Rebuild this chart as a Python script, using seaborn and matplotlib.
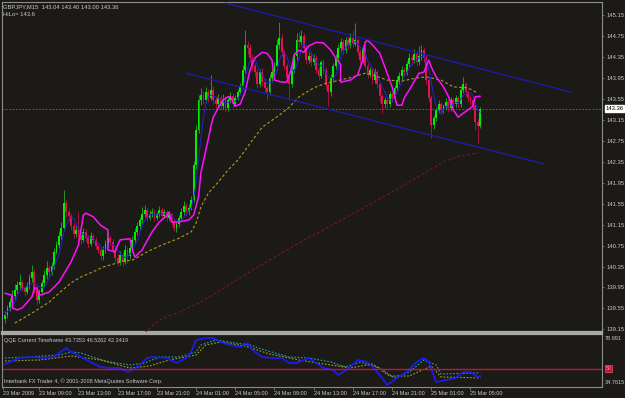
import numpy as np
import pandas as pd
import matplotlib
matplotlib.use("Agg")
import matplotlib.pyplot as plt
import seaborn as sns

# GBPJPY M15 candles (one row = 10 bars)
first_open = 139.35
closes = [
    139.42, 139.56, 139.67, 139.79, 139.90, 139.99, 140.05, 139.94, 139.86, 139.98,
    140.13, 140.24, 139.90, 139.71, 139.86, 140.03, 140.18, 140.32, 140.24, 140.36,
    140.63, 140.76, 140.93, 141.09, 141.56, 141.39, 141.32, 141.12, 140.97, 141.05,
    140.93, 140.86, 141.01, 140.90, 140.78, 140.93, 140.86, 140.74, 140.67, 140.55,
    140.67, 140.78, 140.90, 140.82, 140.67, 140.51, 140.44, 140.57, 140.44, 140.67,
    140.55, 140.70, 140.86, 141.01, 141.12, 141.24, 141.35, 141.43, 141.28, 141.35,
    141.39, 141.28, 141.35, 141.43, 141.32, 141.39, 141.28, 141.35, 141.20, 141.09,
    141.16, 141.28, 141.39, 141.51, 141.39, 141.47, 141.62, 142.29, 142.96, 143.53,
    143.62, 143.53, 143.68, 143.57, 143.72, 143.53, 143.45, 143.57, 143.41, 143.53,
    143.37, 143.53, 143.60, 143.45, 143.57, 143.68, 143.79, 144.10, 144.58, 144.52,
    144.33, 144.18, 144.06, 143.83, 144.06, 143.87, 143.76, 143.68, 143.95, 144.06,
    144.18, 144.58, 144.71, 144.44, 144.18, 143.95, 143.83, 144.10, 144.37, 144.67,
    144.63, 144.75, 144.52, 144.29, 144.37, 144.25, 144.33, 144.10, 143.99, 144.25,
    144.10, 143.81, 143.68, 143.95, 144.18, 144.33, 144.52, 144.63, 144.48, 144.67,
    144.58, 144.71, 144.60, 144.67, 144.44, 144.29, 144.52, 144.18, 144.01, 144.10,
    143.91, 144.06, 143.83, 143.60, 143.45, 143.53, 143.45, 143.64, 143.57, 143.76,
    143.91, 143.99, 144.10, 144.06, 144.21, 144.33, 144.29, 144.41, 144.25, 144.37,
    144.48, 144.33, 143.91, 143.57, 143.05, 143.18, 143.34, 143.45, 143.34, 143.41,
    143.49, 143.37, 143.53, 143.45, 143.57, 143.45, 143.72, 143.83, 143.68, 143.57,
    143.53, 143.44, 143.10, 143.04, 143.36,
]
highs = [
    139.50, 139.62, 139.75, 139.90, 140.02, 140.08, 140.20, 140.10, 139.98, 140.06,
    140.20, 140.38, 140.30, 139.98, 139.92, 140.10, 140.28, 140.45, 140.38, 140.44,
    140.70, 140.84, 141.02, 141.20, 141.82, 141.62, 141.46, 141.38, 141.18, 141.12,
    141.40, 140.98, 141.08, 141.06, 140.96, 141.00, 140.98, 140.92, 140.80, 140.72,
    140.74, 140.86, 141.00, 140.96, 140.88, 140.72, 140.58, 140.64, 140.62, 140.76,
    140.72, 140.78, 140.94, 141.08, 141.20, 141.30, 141.48, 141.52, 141.46, 141.42,
    141.46, 141.44, 141.40, 141.50, 141.48, 141.44, 141.42, 141.40, 141.38, 141.26,
    141.22, 141.34, 141.46, 141.60, 141.56, 141.54, 141.70, 142.36, 143.05, 143.62,
    143.76, 143.70, 143.78, 143.74, 144.00, 143.80, 143.60, 143.64, 143.62, 143.64,
    143.60, 143.58, 143.68, 143.66, 143.62, 143.74, 143.86, 144.20, 144.86, 144.66,
    144.60, 144.40, 144.24, 144.12, 144.12, 144.14, 143.94, 143.82, 144.02, 144.14,
    144.26, 144.70, 145.02, 144.78, 144.50, 144.24, 144.02, 144.18, 144.44, 144.80,
    144.82, 144.86, 144.80, 144.58, 144.44, 144.42, 144.40, 144.38, 144.16, 144.30,
    144.32, 144.16, 143.88, 144.02, 144.24, 144.40, 144.60, 144.72, 144.70, 144.74,
    144.76, 144.80, 144.86, 145.00, 144.72, 144.50, 144.58, 144.58, 144.24, 144.16,
    144.16, 144.14, 144.10, 143.88, 143.66, 143.58, 143.56, 143.70, 143.68, 143.82,
    143.98, 144.06, 144.18, 144.16, 144.28, 144.42, 144.38, 144.50, 144.46, 144.56,
    144.58, 144.52, 144.38, 143.96, 143.62, 143.24, 143.40, 143.52, 143.50, 143.46,
    143.56, 143.54, 143.58, 143.56, 143.62, 143.60, 143.78, 143.96, 143.88, 143.72,
    143.62, 143.60, 143.50, 143.16, 143.40,
]
lows = [
    139.28, 139.36, 139.50, 139.62, 139.72, 139.84, 139.92, 139.88, 139.78, 139.82,
    139.92, 140.06, 139.84, 139.62, 139.66, 139.80, 139.98, 140.12, 140.16, 140.18,
    140.30, 140.58, 140.70, 140.88, 141.02, 141.30, 141.22, 141.04, 140.90, 140.92,
    140.86, 140.78, 140.82, 140.84, 140.70, 140.74, 140.80, 140.68, 140.60, 140.48,
    140.48, 140.60, 140.72, 140.76, 140.60, 140.44, 140.36, 140.38, 140.36, 140.40,
    140.42, 140.50, 140.64, 140.80, 140.96, 141.06, 141.18, 141.30, 141.22, 141.24,
    141.30, 141.22, 141.24, 141.30, 141.26, 141.28, 141.22, 141.24, 141.14, 141.02,
    141.00, 141.10, 141.22, 141.34, 141.32, 141.34, 141.42, 141.58, 142.22, 142.90,
    143.44, 143.46, 143.48, 143.50, 143.52, 143.46, 143.38, 143.40, 143.34, 143.36,
    143.30, 143.32, 143.48, 143.40, 143.42, 143.52, 143.62, 143.74, 144.04, 144.40,
    144.26, 144.10, 143.98, 143.76, 143.78, 143.80, 143.66, 143.52, 143.62, 143.88,
    143.98, 144.10, 144.50, 144.36, 144.10, 143.88, 143.52, 143.78, 144.04, 144.30,
    144.54, 144.58, 144.46, 144.22, 144.24, 144.18, 144.20, 144.04, 143.92, 143.94,
    144.02, 143.74, 143.42, 143.60, 143.88, 144.12, 144.26, 144.44, 144.40, 144.42,
    144.50, 144.52, 144.54, 144.56, 144.38, 144.22, 144.24, 144.12, 143.94, 143.96,
    143.84, 143.86, 143.76, 143.50, 143.28, 143.38, 143.36, 143.40, 143.50, 143.52,
    143.70, 143.84, 143.92, 143.98, 144.00, 144.16, 144.20, 144.24, 144.18, 144.20,
    144.30, 144.26, 143.84, 143.50, 142.80, 142.98, 143.12, 143.28, 143.26, 143.28,
    143.34, 143.30, 143.32, 143.38, 143.40, 143.38, 143.40, 143.66, 143.60, 143.50,
    143.44, 143.36, 142.96, 142.71, 143.00,
]

# HiLo indicator (magenta), bar index / price
hilo_idx = [0, 3, 3, 5, 7, 8, 11, 12, 13, 14, 18, 22, 27, 30, 31, 32, 33, 36, 39, 42,
            42, 45, 46, 47, 51, 52, 53, 56, 60, 63, 66, 67, 68, 71, 75, 77, 79, 80, 82, 84,
            85, 87, 89, 91, 92, 94, 96, 98, 100, 102, 105, 107, 109, 110, 113, 115, 117, 118, 120, 122,
            124, 127, 130, 133, 135, 137, 137, 141, 144, 146, 147, 148, 150, 153, 156, 158, 160, 162, 163, 165,
            169, 171, 173, 174, 176, 179, 181, 183, 185, 186, 189, 191, 192, 194]
hilo_val = [139.84, 139.80, 139.56, 139.52, 139.56, 139.61, 139.77, 139.94, 139.94, 139.80,
            139.86, 140.05, 140.44, 140.76, 141.05, 141.33, 141.37, 141.30, 141.14, 141.05,
            140.67, 140.63, 140.76, 140.86, 140.88, 140.67, 140.53, 140.67, 141.01, 141.20,
            141.32, 141.39, 141.20, 141.20, 141.24, 141.33, 141.68, 142.15, 142.57, 143.01,
            143.20, 143.37, 143.53, 143.59, 143.59, 143.41, 143.45, 143.68, 144.10, 144.33,
            144.44, 144.42, 144.29, 143.91, 143.87, 143.87, 144.14, 144.39, 144.48, 144.44,
            144.56, 144.63, 144.62, 144.48, 144.33, 144.21, 143.87, 143.91, 144.01, 144.29,
            144.63, 144.67, 144.58, 144.42, 144.04, 143.78, 143.43, 143.43, 143.57, 143.72,
            144.04, 144.06, 144.29, 144.16, 143.97, 143.78, 143.60, 143.34, 143.20, 143.24,
            143.34, 143.41, 143.59, 143.60]

# slow moving average (olive dashed)
ma_slow_idx = [4, 11, 18, 22, 27, 31, 36, 40, 46, 49, 52, 58, 64, 71, 76, 78, 80, 83, 87, 91,
               95, 98, 100, 105, 112, 116, 120, 126, 131, 137, 142, 147, 150, 156, 162, 168, 172, 178, 183, 189, 193]
ma_slow_val = [139.27, 139.46, 139.67, 139.84, 140.04, 140.15, 140.25, 140.34, 140.42, 140.46,
               140.47, 140.63, 140.76, 140.89, 141.01, 141.18, 141.49, 141.75, 141.96, 142.19,
               142.38, 142.57, 142.70, 143.01, 143.24, 143.39, 143.59, 143.76, 143.85, 143.91,
               143.97, 144.04, 144.01, 143.91, 143.89, 143.95, 143.97, 143.91, 143.78, 143.76, 143.66]

# long moving average (maroon dashed)
ma_long_idx = [57, 63, 71, 80, 100, 120, 141, 161, 179, 186, 193]
ma_long_val = [139.08, 139.33, 139.48, 139.67, 140.25, 140.80, 141.33, 141.85, 142.35, 142.46, 142.52]

# channel lines (bar index, price)
upper_idx = [90, 231]
upper_val = [145.38, 143.68]
lower_idx = [74, 220]
lower_val = [144.04, 142.31]

bid = 143.36
price_ticks = [145.15, 144.75, 144.35, 143.95, 143.55, 143.15, 142.75, 142.35,
               141.95, 141.55, 141.15, 140.75, 140.35, 139.95, 139.55, 139.15]

# QQE sub window
qqe_idx = [0, 2, 6, 11, 16, 20, 22, 25, 27, 31, 35, 39, 43, 47, 50, 52, 55, 58, 60, 66,
           70, 74, 76, 78, 82, 85, 88, 92, 96, 99, 101, 105, 109, 113, 116, 119, 122, 124, 127, 130,
           134, 136, 138, 141, 144, 148, 150, 153, 156, 160, 164, 168, 171, 173, 176, 180, 184, 187, 190, 193, 194]
qqe_val = [53.95, 55.62, 58.96, 59.80, 58.96, 59.80, 63.13, 67.31, 63.97, 59.80,
           55.62, 51.45, 50.62, 50.62, 47.28, 48.95, 53.12, 58.96, 59.80, 58.96,
           54.79, 58.96, 63.97, 73.98, 75.65, 75.65, 72.31, 69.81, 68.14, 71.48,
           65.64, 59.80, 58.96, 58.96, 54.79, 54.79, 57.29, 58.96, 54.79, 50.62,
           48.95, 44.77, 47.28, 51.45, 57.29, 55.62, 51.45, 44.77, 36.43, 42.27,
           47.28, 55.62, 58.96, 55.62, 38.93, 40.60, 42.27, 47.28, 47.28, 43.11, 43.74]
qqe_fast_idx = [0, 10, 22, 27, 31, 37, 43, 51, 57, 63, 71, 78, 80, 86, 94, 100, 106, 116, 124, 133,
                139, 145, 153, 159, 165, 171, 176, 178, 194]
qqe_fast_val = [58.96, 59.80, 61.46, 63.97, 63.13, 58.96, 55.62, 53.12, 54.79, 59.80,
                59.80, 63.97, 69.81, 73.98, 71.48, 69.81, 65.64, 59.80, 58.96, 55.62,
                51.45, 55.62, 50.62, 42.27, 47.28, 57.29, 53.12, 45.61, 46.53]
qqe_slow_idx = [0, 14, 27, 39, 51, 59, 67, 78, 82, 88, 98, 108, 120, 133, 141, 150, 157, 165, 174, 178, 194]
qqe_slow_val = [56.46, 57.29, 60.63, 57.29, 50.62, 52.28, 57.29, 61.46, 69.81, 72.31,
                68.97, 62.30, 57.29, 53.12, 50.62, 53.95, 43.94, 43.94, 52.28, 43.11, 42.34]

time_idx = [-1, 14, 30, 46, 62, 78, 94, 110, 126, 142, 158, 174, 190]
time_labels = ['23 Mar 2009', '23 Mar 09:00', '23 Mar 13:00', '23 Mar 17:00', '23 Mar 21:00',
               '24 Mar 01:00', '24 Mar 05:00', '24 Mar 09:00', '24 Mar 13:00', '24 Mar 17:00',
               '24 Mar 21:00', '25 Mar 01:00', '25 Mar 05:00']

# colours
bg = '#1c1a16'
txt = '#c8c8c8'
frame = '#8c8c8c'

sns.set_theme(style='dark', rc={'axes.facecolor': bg, 'figure.facecolor': bg,
                                'axes.edgecolor': frame, 'axes.grid': False})
plt.rcParams['font.family'] = ['Liberation Sans', 'DejaVu Sans']

fig = plt.figure(figsize=(6.25, 3.98), dpi=100)
ax = fig.add_axes([2 / 625, 66 / 398, 600 / 625, 330 / 398])
ax2 = fig.add_axes([2 / 625, 11 / 398, 600 / 625, 53 / 398])

# candles
o = np.array([first_open] + closes[:-1])
c = np.array(closes)
h = np.maximum(np.array(highs), np.maximum(o, c))
l = np.minimum(np.array(lows), np.minimum(o, c))
x = np.arange(len(c))
up = c >= o
body = np.where(np.abs(c - o) < 0.012, 0.012, c - o)
ax.vlines(x[up], l[up], h[up], color='#1f9a1f', lw=0.7, zorder=2)
ax.vlines(x[~up], l[~up], h[~up], color='#a8123f', lw=0.7, zorder=2)
ax.bar(x[up], body[up], bottom=o[up], width=0.75, color='#00ee00', linewidth=0, zorder=3)
ax.bar(x[~up], body[~up], bottom=o[~up], width=0.75, color='#e5104f', linewidth=0, zorder=3)

# indicators on price
fast_ma = pd.Series(c).rolling(5, min_periods=1).mean()
sns.lineplot(x=x, y=fast_ma, ax=ax, color='#2222dd', lw=0.7, zorder=4)
sns.lineplot(x=ma_slow_idx, y=ma_slow_val, ax=ax, color='#b09a22', lw=0.8,
             linestyle=(0, (2.5, 2)), estimator=None, sort=False, zorder=4)
sns.lineplot(x=ma_long_idx, y=ma_long_val, ax=ax, color='#7a1238', lw=0.8,
             linestyle=(0, (2.5, 2)), estimator=None, sort=False, zorder=4)
sns.lineplot(x=hilo_idx, y=hilo_val, ax=ax, color='#ff10ff', lw=1.1,
             estimator=None, sort=False, zorder=5)
sns.lineplot(x=upper_idx, y=upper_val, ax=ax, color='#1c1cb4', lw=0.9, estimator=None, zorder=5)
sns.lineplot(x=lower_idx, y=lower_val, ax=ax, color='#1c1cb4', lw=0.9, estimator=None, zorder=5)
ax.axhline(bid, color='#6e6e6e', lw=0.6, ls=(0, (2, 2)), zorder=1)

ax.set_xlim(-1.22, 243.7)
ax.set_ylim(139.10, 145.40)
ax.set_xticks([])
ax.yaxis.tick_right()
ax.set_yticks(price_ticks)
ax.set_yticklabels([f'{v:.2f}' for v in price_ticks])
ax.tick_params(axis='y', colors=frame, labelcolor=txt, labelsize=4.2, length=1.5,
               width=0.5, pad=1.5, direction='out', right=True, left=False)
ax.set_xlabel('')
ax.set_ylabel('')
for s in ['top', 'left', 'right']:
    ax.spines[s].set_color(frame)
    ax.spines[s].set_linewidth(0.8)
ax.spines['right'].set_linestyle((0, (1, 1)))
ax.spines['bottom'].set_color('#a8a8a8')
ax.spines['bottom'].set_linewidth(1.6)

ax.annotate(f'{bid:.2f}', xy=(1.0, bid), xycoords=('axes fraction', 'data'),
            xytext=(2.5, 0), textcoords='offset points', va='center', ha='left',
            fontsize=4.2, color='black',
            bbox=dict(boxstyle='square,pad=0.15', fc='white', ec='white'))

fig.text(3 / 625, 1 - 4 / 398, 'GBPJPY,M15  143.04 143.40 143.00 143.36',
         color=txt, fontsize=4.2, va='top', ha='left')
fig.text(3 / 625, 1 - 11.5 / 398, 'HiLo= 143.6', color=txt, fontsize=4.2, va='top', ha='left')

# QQE sub window
sns.lineplot(x=qqe_fast_idx, y=qqe_fast_val, ax=ax2, color='#20a6b4', lw=0.8,
             linestyle=(0, (1.5, 1.5)), estimator=None, sort=False)
sns.lineplot(x=qqe_slow_idx, y=qqe_slow_val, ax=ax2, color='#a8a020', lw=0.8,
             linestyle=(0, (1.5, 1.5)), estimator=None, sort=False)
sns.lineplot(x=qqe_idx, y=qqe_val, ax=ax2, color='#1a1aff', lw=1.2, estimator=None, sort=False)
ax2.axhline(50, color='#c8103c', lw=1.0)

ax2.set_xlim(-1.22, 243.7)
ax2.set_ylim(34.7615, 78.991)
ax2.set_yticks([])
ax2.set_xlabel('')
ax2.set_ylabel('')
ax2.set_xticks(time_idx)
ax2.set_xticklabels(time_labels)
for lab in ax2.get_xticklabels():
    lab.set_ha('left')
ax2.tick_params(axis='x', colors=frame, labelcolor=txt, labelsize=4.0, length=2,
                width=0.5, pad=1.2, direction='out', bottom=True)
for s in ['left', 'bottom', 'right']:
    ax2.spines[s].set_color(frame)
    ax2.spines[s].set_linewidth(0.8)
ax2.spines['right'].set_linestyle((0, (1, 1)))
ax2.spines['top'].set_color('#a8a8a8')
ax2.spines['top'].set_linewidth(1.6)

ax2.text(1.004, 0.96, '78.991', transform=ax2.transAxes, color=txt, fontsize=4.0,
         va='top', ha='left')
ax2.text(1.004, 0.04, '34.7615', transform=ax2.transAxes, color=txt, fontsize=4.0,
         va='bottom', ha='left')
ax2.annotate('50', xy=(1.0, 50), xycoords=('axes fraction', 'data'),
             xytext=(2.5, 0), textcoords='offset points', va='center', ha='left',
             fontsize=3.6, color='#ff8aa0',
             bbox=dict(boxstyle='square,pad=0.15', fc='#c8103c', ec='#ff6080', lw=0.4))
ax2.text(0.003, 0.93, 'QQE Current Timeframe 43.7353 46.5262 42.3419', transform=ax2.transAxes,
         color=txt, fontsize=4.0, va='top', ha='left')
ax2.text(0.003, 0.06, 'Interbank FX Trader 4, © 2001-2008 MetaQuotes Software Corp.',
         transform=ax2.transAxes, color=txt, fontsize=4.0, va='bottom', ha='left')

fig.savefig('out.png', dpi=100, facecolor=bg)
